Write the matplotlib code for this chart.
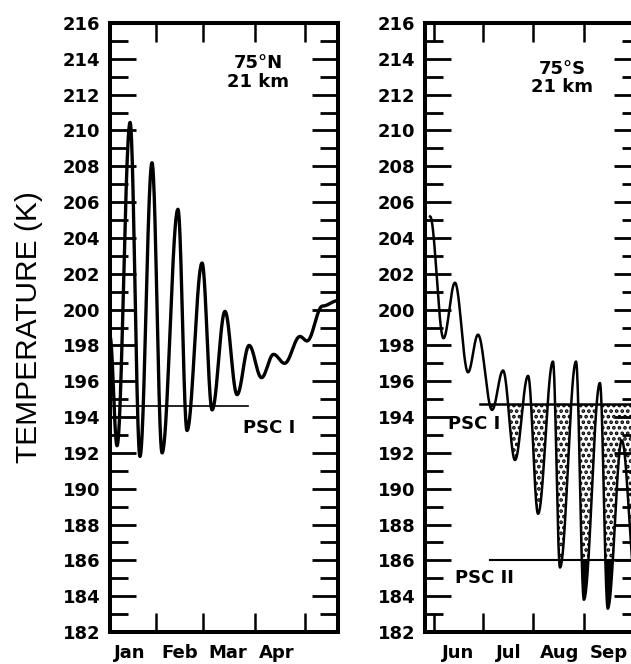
import numpy as np
import matplotlib
matplotlib.use('Agg')
import matplotlib.pyplot as plt
from matplotlib.ticker import FixedLocator, MultipleLocator, NullFormatter, FixedFormatter

# ---------------- data (day of year, temperature K at curve turning points) ----
north_day = [3.5, 7.7, 15.5, 21.4, 28.6, 34.6, 44.1, 49.5, 58.5, 64.5, 72.2,
             79.4, 86.6, 94.0, 101.2, 107.8, 117.0, 121.2, 130.5, 139.7]
north_temp = [198.5, 192.4, 210.45, 191.8, 208.2, 192.0, 205.6, 193.25, 202.6,
              194.4, 199.9, 195.25, 198.0, 196.2, 197.5, 197.0, 198.5, 198.25,
              200.2, 200.5]

south_day = [148.9, 157.1, 164.1, 172.1, 178.2, 186.8, 193.5, 200.8, 208.8,
             214.9, 224.0, 228.3, 238.1, 242.9, 252.7, 257.5, 266.1, 274.8]
south_temp = [205.2, 198.4, 201.5, 196.5, 198.6, 194.4, 196.6, 191.6, 196.3,
              188.6, 197.1, 185.6, 197.1, 183.8, 195.9, 183.3, 192.7, 184.5]

psc1_north = 194.6
psc1_south = 194.75
psc2_south = 186.0
north_psc1_end = 86.0
south_psc1_start = 179.4
south_psc2_start = 185.5

north_month_ticks = [31, 59, 90, 120]
north_month_labels = ['Jan', 'Feb', 'Mar', 'Apr']
north_label_days = [15, 45, 74, 103]
south_month_ticks = [151, 181, 212, 243, 273]
south_month_labels = ['Jun', 'Jul', 'Aug', 'Sep']
south_label_days = [166, 197, 228, 258]

y_ticks = list(range(182, 217, 2))

# ---------------- helpers ----------------------------------------------------
def smooth(xp, yp, n=40):
    xs, ys = [], []
    for i in range(len(xp) - 1):
        t = np.linspace(0, 1, n, endpoint=False)
        xs.append(xp[i] + t * (xp[i + 1] - xp[i]))
        ys.append(yp[i] + (yp[i + 1] - yp[i]) * (1 - np.cos(np.pi * t)) / 2)
    xs.append([xp[-1]]); ys.append([yp[-1]])
    return np.concatenate(xs), np.concatenate(ys)

plt.rcParams['font.family'] = ['DejaVu Sans']
plt.rcParams['font.weight'] = 'bold'
plt.rcParams['hatch.color'] = 'black'
plt.rcParams['hatch.linewidth'] = 1.8

W, H = 631, 664
fig = plt.figure(figsize=(W / 100, H / 100), dpi=100)

def px_axes(x0, x1, y0, y1):
    return fig.add_axes([x0 / W, 1 - y1 / H, (x1 - x0) / W, (y1 - y0) / H])

axL = px_axes(110, 338, 23, 632)
axR = px_axes(425, 640, 23, 632)

def style(ax, xlim, ticks, label_days, labels):
    ax.set_xlim(*xlim)
    ax.set_ylim(182, 216)
    for s in ax.spines.values():
        s.set_linewidth(2.9)
    ax.yaxis.set_major_locator(FixedLocator(y_ticks))
    ax.yaxis.set_minor_locator(MultipleLocator(1))
    ax.yaxis.set_minor_formatter(NullFormatter())
    ax.tick_params(axis='y', which='major', direction='in', length=19, width=2.0,
                   left=True, right=True, labelsize=13, pad=7)
    ax.tick_params(axis='y', which='minor', direction='in', length=13, width=2.0,
                   left=True, right=True)
    ax.xaxis.set_major_locator(FixedLocator(ticks))
    ax.xaxis.set_major_formatter(NullFormatter())
    ax.xaxis.set_minor_locator(FixedLocator(label_days))
    ax.xaxis.set_minor_formatter(FixedFormatter(labels))
    ax.tick_params(axis='x', which='major', direction='in', length=14, width=1.8,
                   top=True, bottom=True)
    ax.tick_params(axis='x', which='minor', length=0, labelsize=13, pad=9,
                   top=False, bottom=True)
    for lab in ax.get_yticklabels() + ax.get_xticklabels(minor=True):
        lab.set_fontweight('bold')

style(axL, (3.5, 139.7), north_month_ticks, north_label_days, north_month_labels)
style(axR, (145.8, 277.2), south_month_ticks, south_label_days, south_month_labels)

# ---------------- north panel -----------------------------------------------
xn, yn = smooth(north_day, north_temp)
axL.plot(xn, yn, color='black', lw=2.4, solid_capstyle='round', zorder=3)
axL.plot([3.5, north_psc1_end], [psc1_north, psc1_north], color='black', lw=1.2, zorder=2)
axL.text(83, 193.4, 'PSC I', fontsize=13, fontweight='bold', ha='left', va='center')
axL.text(92, 213.24, '75°N\n21 km', fontsize=13, fontweight='bold', ha='center',
         va='center', linespacing=1.05)

# ---------------- south panel -----------------------------------------------
xs, ys = smooth(south_day, south_temp)
mask1 = (ys < psc1_south) & (xs >= south_psc1_start)
axR.fill_between(xs, np.maximum(ys, psc2_south), psc1_south, where=mask1,
                 interpolate=True, facecolor='white', edgecolor='black',
                 hatch='...', linewidth=0, zorder=1)
axR.fill_between(xs, ys, psc2_south, where=(ys < psc2_south) & (xs >= south_psc2_start),
                 interpolate=True, color='black', linewidth=0, zorder=1)
axR.plot(xs, ys, color='black', lw=1.8, zorder=3)
axR.plot([south_psc1_start, 290], [psc1_south, psc1_south], color='black', lw=1.8, zorder=2)
axR.plot([south_psc2_start, 290], [psc2_south, psc2_south], color='black', lw=1.5, zorder=2)
axR.text(159.9, 193.63, 'PSC I', fontsize=13, fontweight='bold', ha='left', va='center')
axR.text(164.1, 185.04, 'PSC II', fontsize=13, fontweight='bold', ha='left', va='center')
axR.text(229.5, 212.93, '75°S\n21 km', fontsize=13, fontweight='bold', ha='center',
         va='center', linespacing=1.05)

# ---------------- y label ----------------------------------------------------
fig.text(29 / W, 1 - 327.5 / H, 'TEMPERATURE (K)', rotation=90, ha='center',
         va='center', fontsize=21.5, fontweight='normal',
         family=['Liberation Sans Narrow', 'DejaVu Sans Condensed', 'Liberation Sans'])

fig.savefig('out.png', dpi=100)
